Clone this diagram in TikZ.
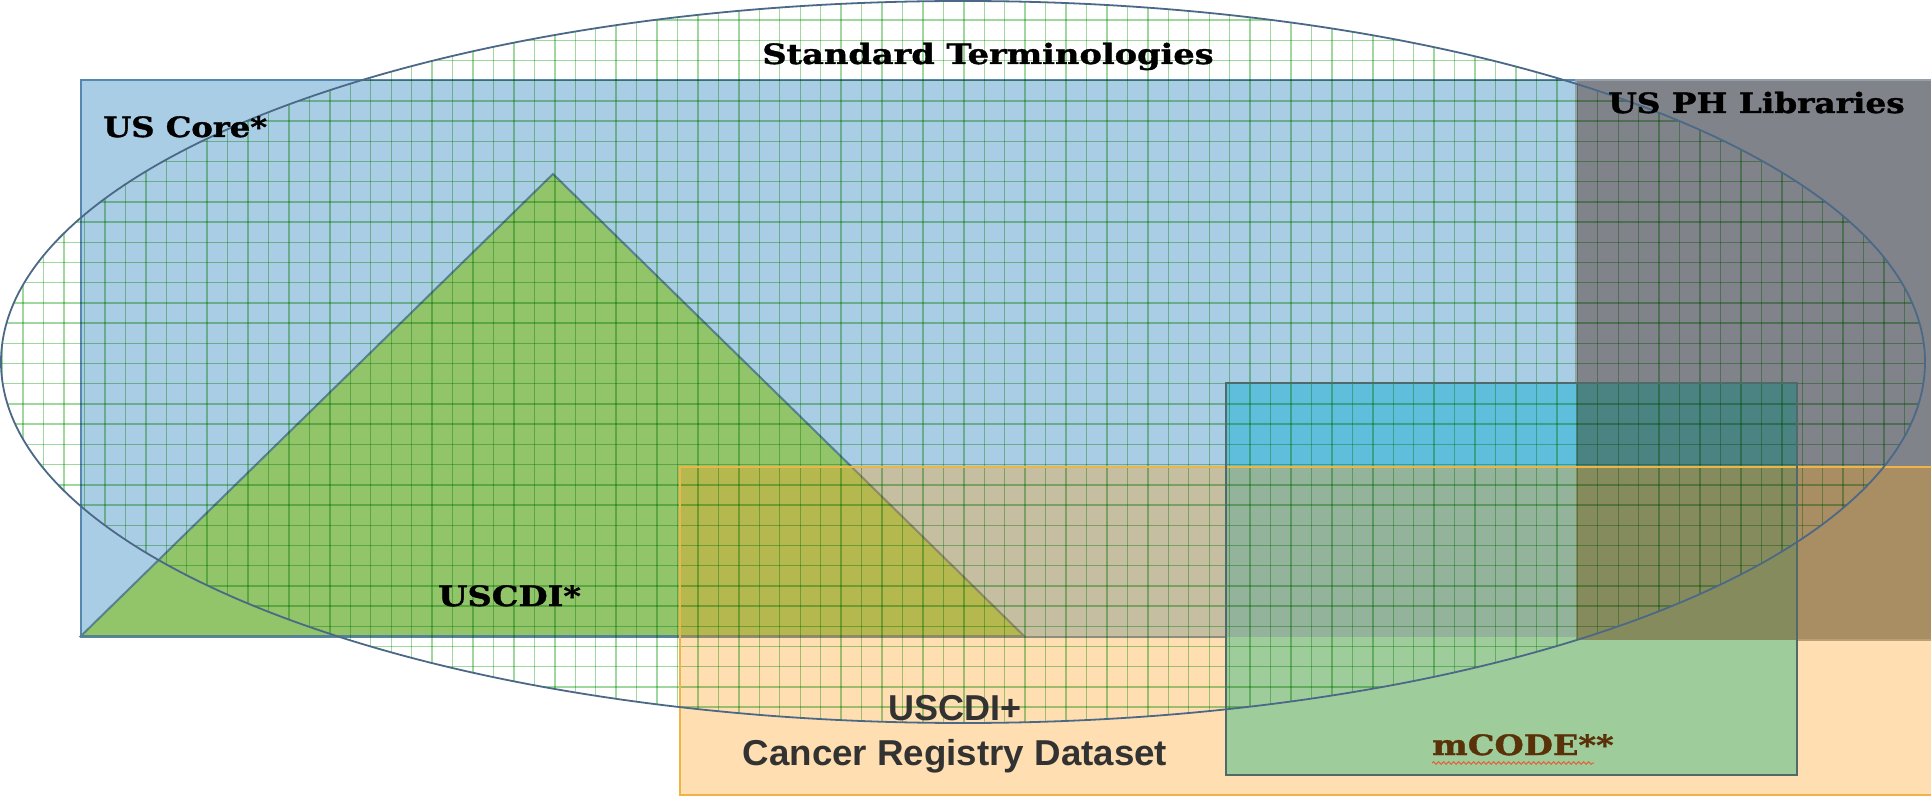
\documentclass[tikz,border=0pt]{standalone}
\usepackage{fontspec}
\usepackage{graphicx}
\usetikzlibrary{decorations.pathmorphing}
\newfontfamily\rockfont{DejaVu Serif}[FakeBold=1.2]
\newfontfamily\arialfont{Liberation Sans}
\definecolor{usblue}{RGB}{170,205,230}
\definecolor{usblueedge}{RGB}{85,135,175}
\definecolor{phgray}{RGB}{128,132,138}
\definecolor{phedge}{RGB}{150,160,170}
\definecolor{trigreen}{RGB}{146,196,106}
\definecolor{triedge}{RGB}{85,130,140}
\definecolor{crorange}{RGB}{255,160,21}
\definecolor{credge}{RGB}{240,180,70}
\definecolor{mcwhite}{RGB}{112,227,221}
\definecolor{mcblue}{RGB}{95,190,220}
\definecolor{mcgray}{RGB}{75,130,130}
\definecolor{mcedge}{RGB}{80,105,105}
\definecolor{gridgreen}{RGB}{158,216,158}
\definecolor{ellipseedge}{RGB}{75,105,135}
\definecolor{textgray}{RGB}{50,50,50}
\definecolor{mcbrown}{RGB}{90,50,10}
\definecolor{squigglered}{RGB}{225,100,60}
\tikzset{
  uscorebox/.style={fill=usblue, draw=usblueedge, line width=2pt},
  uscdibox/.style={fill=trigreen, draw=triedge, line width=2pt, line join=miter},
  phbox/.style={fill=phgray, draw=phedge, line width=1.5pt},
  orangefill/.style={fill=crorange, fill opacity=0.33},
  orangeedge/.style={draw=credge, line width=2pt},
  mcodeedge/.style={draw=mcedge, line width=2pt},
  gridline/.style={draw=gridgreen, line width=1.4pt},
  ellipseline/.style={draw=ellipseedge, line width=1.8pt},
  rocklabel/.style={font=\rockfont\bfseries\fontsize{28}{30}\selectfont, text=black, inner sep=0pt},
  sanslabel/.style={font=\arialfont\bfseries\fontsize{36}{40}\selectfont, text=textgray, inner sep=0pt},
}
\begin{document}
\begin{tikzpicture}[x=1pt,y=-1pt]
\useasboundingbox (0,0) rectangle (1931,799);
\fill[white] (0,0) rectangle (1931,799);
% US Core rectangle
\path[uscorebox] (81,80) rectangle (1576,637);
% USCDI triangle
\path[uscdibox] (81,636) -- (553,174) -- (1024,636) -- cycle;
% US PH Libraries rectangle
\path[phbox] (1576,80) rectangle (1935,640);
% mCODE rectangle (its colour over each layer)
\fill[mcwhite] (1226,383) rectangle (1797,775);
\fill[mcblue] (1226,383) rectangle (1576,637);
\fill[mcgray] (1576,383) rectangle (1797,640);
% USCDI+ rectangle
\path[orangefill] (680,467) rectangle (1935,795);
% grid of the standard terminologies ellipse
\begin{scope}
  \clip (963,362) ellipse [x radius=962, y radius=361];
  \begin{scope}[blend mode=multiply]
    \foreach \i in {0,...,95} \draw[gridline] ({2.65+20.45*\i},0) -- ++(0,800);
    \foreach \j in {0,...,40} \draw[gridline] (0,{20.2*\j}) -- ++(1935,0);
  \end{scope}
\end{scope}
\path[orangeedge] (680,467) rectangle (1935,795);
\path[ellipseline] (963,362) ellipse [x radius=962, y radius=361];
\path[mcodeedge] (1226,383) rectangle (1797,775);
% labels
\node[rocklabel, anchor=base] (st) at (988,64) {\scalebox{1.2}[1]{Standard Terminologies}};
\node[rocklabel, anchor=base west] (core) at (103,137) {\scalebox{1.15}[1]{US Core*}};
\node[rocklabel, anchor=base west] (ph) at (1608,113) {\scalebox{1.17}[1]{US PH Libraries}};
\node[rocklabel, anchor=base west] (uscdi) at (438,606) {\scalebox{1.2}[1]{USCDI*}};
\node[rocklabel, anchor=base west, text=mcbrown] (mcode) at (1432,755) {\scalebox{1.2}[1]{mCODE**}};
\node[sanslabel, anchor=base] (plus) at (955,720) {USCDI+};
\node[sanslabel, anchor=base] (crd) at (955,765) {\scalebox{1.02}[1]{Cancer Registry Dataset}};
\coordinate (sqa) at (1432,763);
\coordinate (sqb) at (1594,763);
\draw[squigglered, line width=1pt, decorate, decoration={snake, amplitude=1.3pt, segment length=5pt}] (sqa) -- (sqb);
\end{tikzpicture}
\end{document}
